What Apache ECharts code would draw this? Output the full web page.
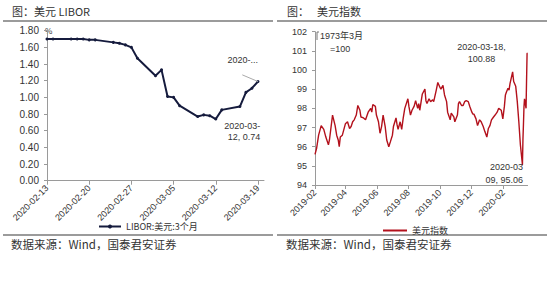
<!DOCTYPE html>
<html><head><meta charset="utf-8">
<script src="https://cdn.jsdelivr.net/npm/echarts@6/dist/echarts.min.js"></script>
<style>html,body{margin:0;padding:0;background:#fff}#c{width:550px;height:290px}</style>
</head><body><div id="c"></div>
<script>
// ---- LIBOR (USD 3M) ----
const liborDates = ['2020-02-13','2020-02-14','2020-02-17','2020-02-18','2020-02-19','2020-02-20','2020-02-21','2020-02-24','2020-02-25','2020-02-26','2020-02-27','2020-02-28','2020-03-02','2020-03-03','2020-03-04','2020-03-05','2020-03-06','2020-03-09','2020-03-10','2020-03-11','2020-03-12','2020-03-13','2020-03-16','2020-03-17','2020-03-18','2020-03-19'];
const liborValues = [1.70,1.70,1.70,1.70,1.70,1.69,1.69,1.66,1.65,1.63,1.60,1.47,1.26,1.33,1.01,1.00,0.90,0.77,0.79,0.78,0.74,0.85,0.89,1.06,1.11,1.19];
const liborTicks = ['2020-02-13','2020-02-20','2020-02-27','2020-03-05','2020-03-12','2020-03-19'];
const liborAxisRange = ['2020-02-13','2020-03-20'];
const liborName = 'LIBOR:美元:3个月';

// ---- US Dollar Index ----
const dxyDates = ['2019-02-01','2019-02-04','2019-02-08','2019-02-13','2019-02-18','2019-02-22','2019-02-27','2019-03-01','2019-03-07','2019-03-12','2019-03-15','2019-03-18','2019-03-20','2019-03-22','2019-03-26','2019-04-01','2019-04-05','2019-04-09','2019-04-12','2019-04-15','2019-04-18','2019-04-22','2019-04-25','2019-04-29','2019-05-01','2019-05-06','2019-05-10','2019-05-15','2019-05-20','2019-05-22','2019-05-24','2019-05-29','2019-05-31','2019-06-04','2019-06-07','2019-06-10','2019-06-13','2019-06-17','2019-06-20','2019-06-24','2019-06-27','2019-07-01','2019-07-03','2019-07-08','2019-07-10','2019-07-12','2019-07-16','2019-07-19','2019-07-22','2019-07-25','2019-07-31','2019-08-02','2019-08-05','2019-08-08','2019-08-12','2019-08-15','2019-08-19','2019-08-21','2019-08-23','2019-08-28','2019-09-02','2019-09-04','2019-09-06','2019-09-10','2019-09-13','2019-09-17','2019-09-19','2019-09-24','2019-09-27','2019-10-01','2019-10-03','2019-10-07','2019-10-10','2019-10-14','2019-10-16','2019-10-21','2019-10-23','2019-10-28','2019-10-30','2019-11-04','2019-11-06','2019-11-08','2019-11-12','2019-11-15','2019-11-18','2019-11-21','2019-11-25','2019-11-28','2019-12-02','2019-12-04','2019-12-06','2019-12-10','2019-12-13','2019-12-17','2019-12-20','2019-12-24','2019-12-27','2019-12-31','2020-01-03','2020-01-06','2020-01-09','2020-01-13','2020-01-16','2020-01-20','2020-01-23','2020-01-28','2020-01-31','2020-02-03','2020-02-05','2020-02-07','2020-02-10','2020-02-12','2020-02-14','2020-02-19','2020-02-21','2020-02-25','2020-02-28','2020-03-02','2020-03-05','2020-03-09','2020-03-10','2020-03-11','2020-03-12','2020-03-13','2020-03-16','2020-03-17','2020-03-18'];
const dxyValues = [95.6,95.9,96.6,97.1,96.9,96.5,96.1,96.35,97.65,97.1,96.6,96.35,96.0,96.5,96.6,97.2,97.3,96.95,97.05,97.3,97.4,97.65,98.15,97.9,97.55,97.5,97.4,97.8,98.0,97.8,98.2,98.1,97.65,97.3,96.7,97.05,97.65,97.05,96.35,96.0,96.25,96.6,97.05,97.5,97.15,96.9,97.3,96.9,97.5,98.0,98.5,98.1,97.65,97.9,98.1,98.4,98.0,98.25,97.9,98.75,99.0,98.4,98.25,98.5,98.35,98.45,98.35,98.95,99.35,99.1,99.0,99.2,98.7,98.35,97.8,97.4,97.75,97.55,97.3,97.65,98.25,98.35,98.15,98.15,98.35,98.4,98.35,98.1,97.8,97.7,97.7,97.45,97.1,97.4,97.3,97.05,96.8,96.5,96.95,97.1,97.4,97.55,97.65,97.8,98.0,97.9,97.45,98.1,98.7,98.85,99.05,98.95,99.3,99.9,99.4,99.15,98.35,97.3,96.1,95.06,96.4,97.2,98.1,98.5,98.0,99.5,100.88];
const dxyTicks = ['2019-02-01','2019-04-01','2019-06-01','2019-08-01','2019-10-01','2019-12-01','2020-02-01'];
const dxyAxisRange = ['2019-02-01','2020-03-19'];
const dxyName = '美元指数';

const DAY = 86400000;
function utc(s){const p=s.split('-');return Date.UTC(+p[0],+p[1]-1,+p[2]);}
function dayOf(s, base){return Math.round((utc(s)-utc(base))/DAY);}
function pad(n){return n<10?'0'+n:''+n;}
function fmtDay(base){return v=>{const d=new Date(utc(base)+Math.round(v)*DAY);return d.getUTCFullYear()+'-'+pad(d.getUTCMonth()+1)+'-'+pad(d.getUTCDate());};}
function fmtMonth(base){return v=>{const d=new Date(utc(base)+Math.round(v)*DAY);return d.getUTCFullYear()+'-'+pad(d.getUTCMonth()+1);};}

const SANS = "'Liberation Sans','Noto Sans CJK SC',sans-serif";
const CJK = "'Noto Sans CJK SC','Liberation Sans',sans-serif";
const TXT = '#333';
const AXC = '#9a9a9a';
const LINE_L = '#151b3d', LINE_R = '#b3111c';
const LB = liborAxisRange[0], DB = dxyAxisRange[0];

const liborMinIdx = liborValues.indexOf(Math.min(...liborValues));
const liborLast = liborValues.length - 1;
const liborData = liborDates.map((d,i)=>{
  const item = {value:[dayOf(d,LB), liborValues[i]]};
  if(i===liborMinIdx){
    item.label = {show:true, formatter: d.slice(0,8)+'\n'+d.slice(8)+', '+liborValues[i].toFixed(2),
      position:[46,3], align:'right', verticalAlign:'top', lineHeight:11,
      fontFamily:SANS, fontSize:9, color:TXT};
  }
  if(i===liborLast){
    item.label = {show:true, formatter:'2020-...', position:[-29,-25], align:'left', verticalAlign:'top',
      fontFamily:SANS, fontSize:9, color:TXT};
  }
  return item;
});
// gray leader from the "2020-..." label toward the last LIBOR point
const liborLeader = [
  {coord:[dayOf(liborDates[liborLast],LB)-2.6, liborValues[liborLast]+0.08]},
  {coord:[dayOf(liborDates[liborLast],LB), liborValues[liborLast]]}
];

const dxyMaxIdx = dxyValues.indexOf(Math.max(...dxyValues));
const dxyMinIdx = dxyValues.indexOf(Math.min(...dxyValues));
const dxyData = dxyDates.map((d,i)=>{
  const item = {value:[dayOf(d,DB), dxyValues[i]]};
  if(i===dxyMaxIdx){
    item.symbol='circle'; item.symbolSize=1;
    item.label = {show:true, formatter: d+',\n'+dxyValues[i].toFixed(2), position:[-45,0],
      align:'center', verticalAlign:'middle', lineHeight:12, fontFamily:SANS, fontSize:9, color:TXT};
  }
  if(i===dxyMinIdx){
    item.symbol='circle'; item.symbolSize=1;
    item.label = {show:true, formatter: d.slice(0,7)+'\n'+d.slice(8)+', '+dxyValues[i].toFixed(2), position:[1,-4],
      align:'right', verticalAlign:'top', lineHeight:13, fontFamily:SANS, fontSize:9, color:TXT};
  }
  return item;
});

const chart = echarts.init(document.getElementById('c'), null, {renderer:'svg'});
chart.setOption({
  animation:false,
  backgroundColor:'#fff',
  grid:[
    {left:47, top:30.7, width:217, height:150},
    {left:315, top:31.7, width:212.6, height:153.3}
  ],
  xAxis:[
    {type:'value', gridIndex:0, min:0, max:dayOf(liborAxisRange[1],LB),
     axisLine:{onZero:false, lineStyle:{color:AXC}}, splitLine:{show:false},
     axisTick:{show:true, length:4, lineStyle:{color:AXC}, customValues:liborTicks.map(d=>dayOf(d,LB))},
     axisLabel:{customValues:liborTicks.map(d=>dayOf(d,LB)), formatter:fmtDay(LB), rotate:45, margin:6,
       fontFamily:SANS, fontSize:9, color:TXT, hideOverlap:false}},
    {type:'value', gridIndex:1, min:0, max:dayOf(dxyAxisRange[1],DB),
     axisLine:{onZero:false, lineStyle:{color:AXC}}, splitLine:{show:false},
     axisTick:{show:true, length:4, lineStyle:{color:AXC}, customValues:dxyTicks.map(d=>dayOf(d,DB))},
     axisLabel:{customValues:dxyTicks.map(d=>dayOf(d,DB)), formatter:fmtMonth(DB), rotate:45, margin:6,
       fontFamily:SANS, fontSize:9, color:TXT, hideOverlap:false}}
  ],
  yAxis:[
    {type:'value', gridIndex:0, min:0, max:1.8, interval:0.2,
     name:'%', nameLocation:'end', nameGap:-4, nameTextStyle:{fontFamily:CJK, fontSize:8, color:TXT, align:'left', padding:[0,0,0,-2]},
     axisLine:{show:true, lineStyle:{color:AXC}}, splitLine:{show:false},
     axisTick:{show:true, length:3, lineStyle:{color:AXC}},
     axisLabel:{formatter:v=>v.toFixed(2), margin:8, fontFamily:SANS, fontSize:10, color:TXT}},
    {type:'value', gridIndex:1, min:94, max:102, interval:1,
     axisLine:{show:true, lineStyle:{color:AXC}}, splitLine:{show:false},
     axisTick:{show:true, length:3, lineStyle:{color:AXC}},
     axisLabel:{margin:8, fontFamily:SANS, fontSize:9, color:TXT}}
  ],
  legend:[
    {data:[liborName], left:93, top:217, itemWidth:22, itemHeight:5, itemGap:4,
     textStyle:{fontFamily:CJK, fontSize:9, color:TXT}},
    {data:[{name:dxyName, icon:'rect'}], left:378, top:221, itemWidth:24, itemHeight:2, itemGap:3,
     textStyle:{fontFamily:CJK, fontSize:9, color:TXT, padding:[0,0,0,0]}}
  ],
  series:[
    {name:liborName, type:'line', xAxisIndex:0, yAxisIndex:0, data:liborData,
     symbol:'circle', symbolSize:3, showSymbol:true,
     lineStyle:{color:LINE_L, width:2}, itemStyle:{color:LINE_L},
     markLine:{silent:true, symbol:'none', label:{show:false}, lineStyle:{color:'#aaa', width:1, type:'solid'},
       data:[liborLeader]}},
    {name:dxyName, type:'line', xAxisIndex:1, yAxisIndex:1, data:dxyData,
     symbol:'none', showSymbol:true,
     lineStyle:{color:LINE_R, width:1.4}, itemStyle:{color:LINE_R}}
  ],
  graphic:[
    {type:'text', left:12, top:5, style:{text:'图：美元 LIBOR', font:"11px 'Noto Sans CJK SC'", fill:'#333'}},
    {type:'text', left:287, top:5, style:{text:'图：', font:"11px 'Noto Sans CJK SC'", fill:'#333'}},
    {type:'text', left:317, top:5, style:{text:'美元指数', font:"11px 'Noto Sans CJK SC'", fill:'#333'}},
    {type:'line', shape:{x1:3,y1:21,x2:273,y2:21}, style:{stroke:'#7a7a7a', lineWidth:1.5}},
    {type:'line', shape:{x1:277,y1:21,x2:547,y2:21}, style:{stroke:'#7a7a7a', lineWidth:1.5}},
    {type:'line', shape:{x1:3,y1:235,x2:273,y2:235}, style:{stroke:'#7a7a7a', lineWidth:1.5}},
    {type:'line', shape:{x1:277,y1:235,x2:547,y2:235}, style:{stroke:'#7a7a7a', lineWidth:1.5}},
    {type:'text', left:11, top:238, style:{text:'数据来源：Wind，国泰君安证券', font:"11.5px 'Noto Sans CJK SC'", fill:'#333'}},
    {type:'text', left:286, top:238, style:{text:'数据来源：Wind，国泰君安证券', font:"11.5px 'Noto Sans CJK SC'", fill:'#333'}},
    {type:'text', left:320, top:31, style:{text:'1973年3月', font:"9px 'Liberation Sans','Noto Sans CJK SC'", fill:'#333'}},
    {type:'text', left:330, top:44, style:{text:'=100', font:"9px 'Liberation Sans'", fill:'#333'}},
    {type:'polyline', shape:{points:[[319,32],[317,32],[317,40]]}, style:{stroke:'#777', lineWidth:1, fill:null}}
  ]
});
</script>
</body></html>
